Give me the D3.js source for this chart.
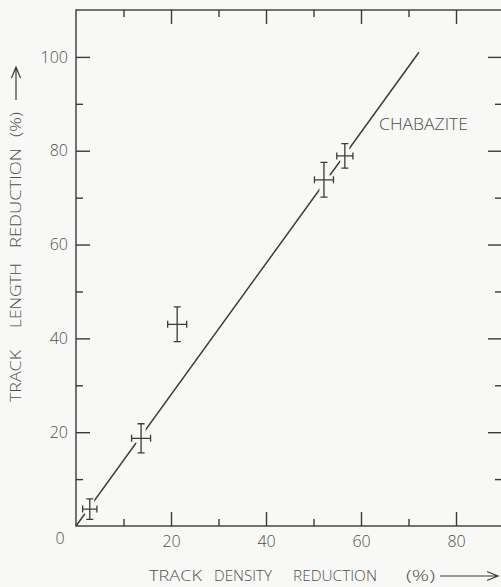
<!DOCTYPE html>
<html>
<head>
<meta charset="utf-8">
<script src="https://cdn.jsdelivr.net/npm/d3@7"></script>
<style>
  html, body { margin: 0; padding: 0; background: #f8f8f6; }
  svg { display: block; }
</style>
</head>
<body>
<div id="chart"></div>
<script>
const densityRed = [2.9, 13.7, 21.3, 52.2, 56.6];
const lengthRed = [3.6, 18.7, 43.0, 73.8, 78.9];
const densityErr = [1.5, 2.0, 2.0, 2.0, 1.7];
const lengthErr = [2.2, 3.1, 3.7, 3.7, 2.6];

// straight fit line
const fitX = [0, 72.2];
const fitY = [0, 101];

const xMajor = [20, 40, 60, 80];
const xMinor = [10, 30, 50, 70];
const yMajor = [20, 40, 60, 80, 100];
const yMinor = [10, 30, 50, 70, 90];

const xTitleWords = ["TRACK", "DENSITY", "REDUCTION", "(%)"];
const yTitleWords = ["TRACK", "LENGTH", "REDUCTION", "(%)"];

const width = 501;
const height = 587;
const bg = "#f8f8f6";
const ink = "#3a3a3a";
const textCol = "#4f4f4f";
const font = "'Open Sans', 'DejaVu Sans', sans-serif";

const frameL = 76, frameT = 10, frameB = 526, frameR = 502;

const x = d3.scaleLinear().domain([0, 100]).range([frameL, frameL + 475]);
const y = d3.scaleLinear().domain([0, 110]).range([frameB, frameT]);

const svg = d3.select("#chart").append("svg")
  .attr("width", width)
  .attr("height", height)
  .attr("viewBox", [0, 0, width, height]);

svg.append("rect").attr("width", width).attr("height", height).attr("fill", bg);

// frame
svg.append("rect")
  .attr("x", frameL).attr("y", frameT)
  .attr("width", frameR - frameL).attr("height", frameB - frameT)
  .attr("fill", "none").attr("stroke", ink).attr("stroke-width", 1.4);

function styleAxis(g) {
  g.select(".domain").remove();
  g.selectAll(".tick line").attr("stroke", ink).attr("stroke-width", 1.4);
  g.selectAll(".tick text")
    .attr("fill", textCol)
    .attr("font-family", font)
    .attr("font-weight", 300)
    .attr("font-size", 16);
}

const inFrame = v => x(v) < frameR - 1;

// ticks point inward on all four sides
svg.append("g").attr("transform", `translate(0,${frameB})`)
  .call(d3.axisBottom(x).tickValues(xMajor).tickSize(-14).tickPadding(10).tickFormat(d3.format("d")))
  .call(styleAxis);
svg.append("g").attr("transform", `translate(0,${frameB})`)
  .call(d3.axisBottom(x).tickValues(xMinor).tickSize(-7).tickFormat(""))
  .call(styleAxis);
svg.append("g").attr("transform", `translate(0,${frameT})`)
  .call(d3.axisTop(x).tickValues(xMajor.filter(inFrame)).tickSize(-14).tickFormat(""))
  .call(styleAxis);
svg.append("g").attr("transform", `translate(0,${frameT})`)
  .call(d3.axisTop(x).tickValues(xMinor.filter(inFrame)).tickSize(-7).tickFormat(""))
  .call(styleAxis);

svg.append("g").attr("transform", `translate(${frameL},0)`)
  .call(d3.axisLeft(y).tickValues(yMajor).tickSize(-14).tickPadding(8))
  .call(styleAxis);
svg.append("g").attr("transform", `translate(${frameL},0)`)
  .call(d3.axisLeft(y).tickValues(yMinor).tickSize(-7).tickFormat(""))
  .call(styleAxis);
svg.append("g").attr("transform", `translate(${frameR},0)`)
  .call(d3.axisRight(y).tickValues(yMajor).tickSize(-14).tickFormat(""))
  .call(styleAxis);
svg.append("g").attr("transform", `translate(${frameR},0)`)
  .call(d3.axisRight(y).tickValues(yMinor).tickSize(-7).tickFormat(""))
  .call(styleAxis);

// shared origin label
svg.append("text")
  .attr("x", x(0) - 16).attr("y", frameB + 18)
  .attr("text-anchor", "middle")
  .attr("fill", textCol).attr("font-family", font).attr("font-weight", 300).attr("font-size", 16)
  .text("0");

// fit line
svg.append("path")
  .datum(fitX.map((d, i) => [d, fitY[i]]))
  .attr("d", d3.line().x(d => x(d[0])).y(d => y(d[1])))
  .attr("fill", "none").attr("stroke", ink).attr("stroke-width", 1.5);

// error crosses, with a background halo that breaks the fit line
const pts = densityRed.map((d, i) => ({ x: d, y: lengthRed[i], ex: densityErr[i], ey: lengthErr[i] }));
const cap = 3.5;
function crossPath(d) {
  const cx = x(d.x), cy = y(d.y);
  const xa = x(d.x - d.ex), xb = x(d.x + d.ex);
  const ya = y(d.y - d.ey), yb = y(d.y + d.ey);
  return `M${xa},${cy}H${xb}M${cx},${ya}V${yb}` +
    `M${xa},${cy - cap}V${cy + cap}M${xb},${cy - cap}V${cy + cap}` +
    `M${cx - cap},${ya}H${cx + cap}M${cx - cap},${yb}H${cx + cap}`;
}
const crosses = svg.append("g");
crosses.selectAll("path.halo").data(pts).join("path")
  .attr("class", "halo")
  .attr("d", crossPath)
  .attr("fill", "none").attr("stroke", bg).attr("stroke-width", 9);
crosses.selectAll("path.mark").data(pts).join("path")
  .attr("class", "mark")
  .attr("d", crossPath)
  .attr("fill", "none").attr("stroke", ink).attr("stroke-width", 1.3);

// label on the line
svg.append("text")
  .attr("x", 379).attr("y", 130)
  .attr("fill", textCol).attr("font-family", font).attr("font-weight", 300)
  .attr("font-size", 16).attr("textLength", 89).attr("lengthAdjust", "spacingAndGlyphs")
  .text("CHABAZITE");

// axis titles: spaced-out words plus a long open arrow
function arrowPath(len) {
  return `M0,0H${len}M${len - 11},-4.5L${len},0L${len - 11},4.5`;
}
function title(g, words, starts, lengths) {
  g.selectAll("text").data(words).join("text")
    .attr("x", (d, i) => starts[i])
    .attr("fill", textCol).attr("font-family", font).attr("font-weight", 300)
    .attr("font-size", 15)
    .attr("textLength", (d, i) => lengths[i]).attr("lengthAdjust", "spacingAndGlyphs")
    .text(d => d);
}

const xt = svg.append("g").attr("transform", "translate(0,581)");
title(xt, xTitleWords, [149, 214, 293, 406], [53, 58, 84, 29]);
xt.append("path")
  .attr("transform", "translate(440,-5)")
  .attr("d", arrowPath(58))
  .attr("fill", "none").attr("stroke", ink).attr("stroke-width", 1.2);

// rotated: distance along the title runs upward from the bottom of the page
const yt = svg.append("g").attr("transform", "translate(21,0) rotate(-90)");
title(yt, yTitleWords, [-402, -328, -248, -137], [52, 65, 100, 25]);
yt.append("path")
  .attr("transform", "translate(-100,-5)")
  .attr("d", arrowPath(33))
  .attr("fill", "none").attr("stroke", ink).attr("stroke-width", 1.2);
</script>
</body>
</html>
